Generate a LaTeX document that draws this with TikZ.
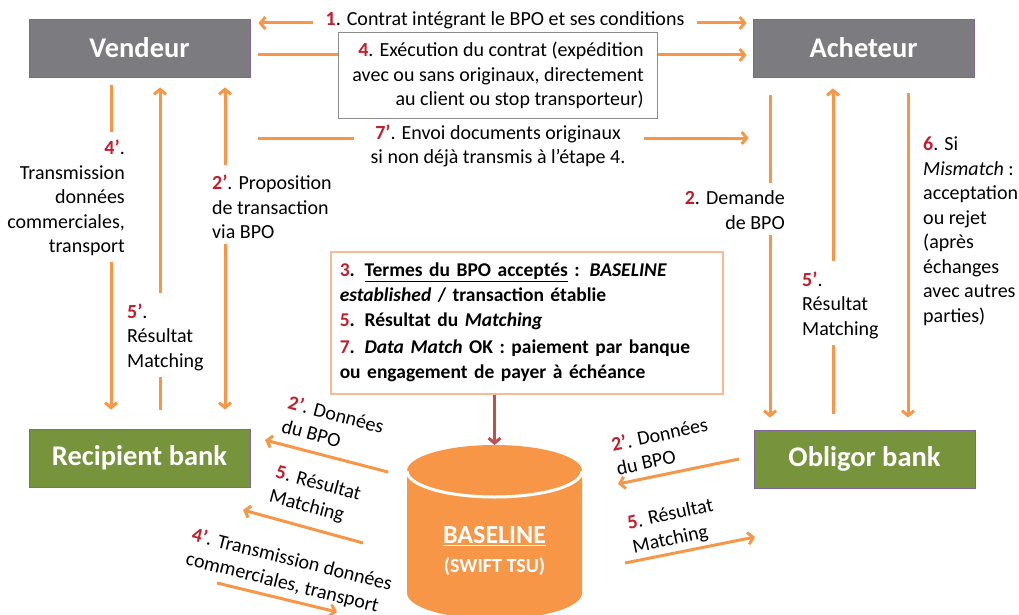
\documentclass[tikz,border=0pt]{standalone}
\usepackage{fontspec}
\setmainfont{Carlito}
\usetikzlibrary{arrows.meta}

\definecolor{vgray}{RGB}{123,123,128}
\definecolor{bgreen}{RGB}{119,147,60}
\definecolor{aorange}{RGB}{247,150,70}
\definecolor{lorange}{RGB}{249,186,145}
\definecolor{nred}{RGB}{192,30,45}
\definecolor{dred}{RGB}{192,80,77}
\definecolor{edgegray}{RGB}{140,140,140}
\definecolor{boxedge}{RGB}{128,100,162}
\newcommand{\stp}[1]{\textcolor{nred}{\textbf{#1}}}

\tikzset{
  box/.style={draw=boxedge, line width=0.8pt, minimum width=221pt, minimum height=58pt, text=white, font=\fontsize{28.5}{32}\selectfont\bfseries},
  party/.style={box, fill=vgray},
  bank/.style={box, fill=bgreen},
  lbl/.style={font=\fontsize{20}{24.5}\selectfont, inner sep=4pt},
  flow/.style={draw=aorange, line width=3pt},
  tip/.style={-{Straight Barb[length=5pt,width=12pt]}},
}

\begin{document}
\begin{tikzpicture}[x=1pt, y=-1pt]
  \useasboundingbox (0,0) rectangle (1019,615);
  % parties and banks
  \node[party] (vend) at (139.5,48) {Vendeur};
  \node[party] (ach) at (863.5,48) {Acheteur};
  \node[bank] (recip) at (139.5,458) {Recipient bank};
  \node[bank] (oblig) at (864.5,459) {Obligor bank};

  % BASELINE store
  \fill[aorange] (407,471) -- (407,593) arc[start angle=180, end angle=0, x radius=87.5, y radius=26]
    -- (582,471) arc[start angle=0, end angle=-180, x radius=87.5, y radius=26] -- cycle;
  \draw[white, line width=3pt] (407,471) arc[start angle=180, end angle=0, x radius=87.5, y radius=26];
  \coordinate (btop) at (494.5,445);
  \node[text=white, align=center, font=\fontsize{26}{29}\selectfont\bfseries] (base) at (494.5,551)
    {\underline{BASELINE}\\{\fontsize{20}{22}\selectfont (SWIFT TSU)}};

  % central steps
  \node[draw=lorange, line width=1.5pt, anchor=north west, text width=374pt, minimum height=142pt,
    inner xsep=9pt, align=left, font=\fontsize{19.5}{25}\selectfont\bfseries] (res) at (330,251)
    {\stp{3}. \underline{Termes du BPO acceptés} : \textit{BASELINE}\\
     \textit{established} / transaction établie\\
     \stp{5}. Résultat du \textit{Matching}\\[2pt]
     \stp{7}. \textit{Data Match} OK : paiement par banque\\
     ou engagement de payer à échéance};

  % labels
  \node[lbl] (lab1) at (505,20) {\stp{1}. Contrat intégrant le BPO et ses conditions};
  \node[lbl, draw=edgegray, line width=1.2pt, anchor=north west, minimum width=319pt, minimum height=86pt, align=right] (ex) at (338,32)
    {\stp{4}. Exécution du contrat (expédition\\avec ou sans originaux, directement\\au client ou stop transporteur)};
  \node[lbl, align=center] (lab7) at (498,146) {\stp{7’}. Envoi documents originaux\\si non déjà transmis à l’étape 4.};
  \node[lbl, align=right, anchor=east] (lab4) at (129,198) {\stp{4’}.\\Transmission\\données\\commerciales,\\transport};
  \node[lbl, align=left, anchor=west] (lab5l) at (123,337) {\stp{5’}.\\Résultat\\Matching};
  \node[lbl, align=left, anchor=west] (lab2l) at (208,207) {\stp{2’}. Proposition\\de transaction\\via BPO};
  \node[lbl, align=right, anchor=east] (lab2r) at (789,210) {\stp{2}. Demande\\de BPO};
  \node[lbl, align=left, anchor=west] (lab5r) at (798,305) {\stp{5’}.\\Résultat\\Matching};
  \node[lbl, align=left, anchor=west] (lab6) at (919,231)
    {\stp{6}. Si\\\textit{Mismatch} :\\acceptation\\ou rejet\\(après\\échanges\\avec autres\\parties)};
  \node[lbl, align=left, rotate=-15] (lab2d) at (333,426) {\stp{2’}. Données\\du BPO};
  \node[lbl, align=left, rotate=-15] (lab5d) at (315,496) {\stp{5}. Résultat\\Matching};
  \node[lbl, align=left, rotate=-14] (lab4d) at (289,572) {\stp{4’}. Transmission données\\commerciales, transport};
  \node[lbl, align=left, rotate=12] (lab2o) at (662,446) {\stp{2’}. Données\\du BPO};
  \node[lbl, align=left, rotate=12] (lab5o) at (673,527) {\stp{5}. Résultat\\Matching};

  % anchors for the arrows
  \coordinate (r1) at (0,23);
  \coordinate (r4) at (0,55);
  \coordinate (r7) at (0,138);
  \coordinate (k1) at (111,0);
  \coordinate (k2) at (160,0);
  \coordinate (k3) at (225,0);
  \coordinate (k4) at (770,0);
  \coordinate (k5) at (833,0);
  \coordinate (k6) at (908,0);
  \coordinate (p1) at (388,472); \coordinate (q1) at (265,440);
  \coordinate (p2) at (363,543); \coordinate (q2) at (243,510);
  \coordinate (p3) at (217,583); \coordinate (q3) at (337,612);
  \coordinate (p4) at (739,459); \coordinate (q4) at (618,484);
  \coordinate (p5) at (625,563); \coordinate (q5) at (755,537);

  \path[flow, every edge/.append style={tip}]
    (lab1.west |- r1) edge[shorten <=8, shorten >=8] (vend.east |- r1)
    (lab1.east |- r1) edge[shorten <=8, shorten >=6] (ach.west |- r1)
    (vend.east |- r4) edge[-, shorten <=8] (ex.west |- r4)
    (ex.east |- r4) edge[shorten >=6] (ach.west |- r4)
    (vend.east |- r7) edge[-, shorten <=8, shorten >=12] (lab7.west |- r7)
    (lab7.east |- r7) edge[shorten <=14, shorten >=4] (ach.west |- r7)
    (vend.south -| k1) edge[-, shorten <=8, shorten >=4] (lab4.north -| k1)
    (lab4.south -| k1) edge[shorten <=2, shorten >=19] (recip.north -| k1)
    (recip.north -| k2) edge[-, shorten <=19, shorten >=2] (lab5l.south -| k2)
    (lab5l.north -| k2) edge[shorten <=6, shorten >=10] (vend.south -| k2)
    (lab2l.north -| k3) edge[shorten <=6, shorten >=10] (vend.south -| k3)
    (lab2l.south -| k3) edge[shorten <=1, shorten >=19] (recip.north -| k3)
    (ach.south -| k4) edge[-, shorten <=18, shorten >=4] (lab2r.north -| k4)
    (lab2r.south -| k4) edge[shorten <=2, shorten >=12] (oblig.north -| k4)
    (oblig.north -| k5) edge[-, shorten <=16, shorten >=2] (lab5r.south -| k5)
    (lab5r.north -| k5) edge[shorten <=6, shorten >=11] (ach.south -| k5)
    (ach.south -| k6) edge[shorten <=16, shorten >=12] (oblig.north -| k6)
    (p1) edge (q1)
    (p2) edge (q2)
    (p3) edge (q3)
    (p4) edge (q4)
    (p5) edge (q5);
  \draw[flow, tip, draw=dred] (res.south -| btop) -- (btop);
\end{tikzpicture}
\end{document}
